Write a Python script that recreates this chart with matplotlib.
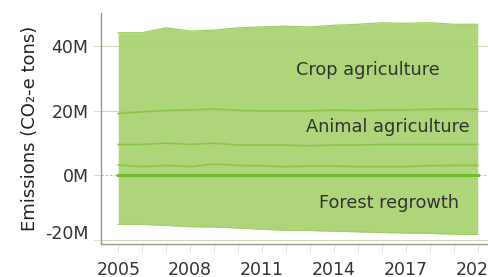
import matplotlib
matplotlib.use("Agg")
import matplotlib.pyplot as plt
import matplotlib.transforms as mtransforms
import numpy as np

plt.rcParams['font.family'] = ['DejaVu Sans']

years = list(range(2005, 2021))
# emission layers, million tonnes CO2-e (stacked from 0 upward)
other_a = [3.1, 2.6, 3.0, 2.6, 3.4, 3.0, 2.9, 2.6, 2.8, 2.8, 2.6, 2.6, 2.6, 2.9, 3.0, 3.0]
other_b = [6.4, 6.9, 6.9, 6.9, 6.5, 6.3, 6.4, 6.7, 6.3, 6.5, 6.7, 6.9, 6.9, 6.6, 6.5, 6.5]
animal = [9.6, 10.1, 10.2, 10.7, 10.6, 10.8, 10.6, 10.6, 10.8, 10.9, 10.7, 10.7, 10.7, 10.9, 11.0, 10.9]
crop = [25.1, 24.6, 25.6, 24.5, 24.5, 25.6, 26.1, 26.3, 26.1, 26.3, 26.8, 27.1, 26.9, 26.9, 26.3, 26.4]
forest = [-15.3, -15.3, -15.6, -16.0, -16.1, -16.4, -16.8, -17.1, -17.2, -17.4, -17.6, -17.8, -18.0, -18.1, -18.3, -18.4]

layer_names = ['Other A', 'Other B', 'Animal agriculture', 'Crop agriculture']
layers = [other_a, other_b, animal, crop]

fill = '#afd57a'
edge = '#8ac548'

fig = plt.figure(figsize=(4.88, 2.77), dpi=100)
ax = fig.add_axes([0.207, 0.119, 0.793, 0.834])

x = np.array(years)
base = np.zeros(len(years))
for i, vals in enumerate(layers):
    top = base + np.array(vals) * 1e6
    ax.fill_between(x, base, top, color=fill, lw=0, zorder=2)
    line_col = edge if i < len(layers) - 1 else '#a2cf68'
    ax.plot(x, top, color=line_col, lw=1.2 if i < len(layers) - 1 else 0.9, zorder=3)
    base = top
ax.fill_between(x, np.array(forest) * 1e6, 0, color=fill, lw=0, zorder=2)
ax.plot(x, np.array(forest) * 1e6, color='#a2cf68', lw=0.9, zorder=3)
ax.plot(x, np.zeros(len(years)), color='#72b92c', lw=2.2, zorder=4)

ax.axhline(0, color='#bbbbbb', lw=0.8, ls=(0, (2, 2)), zorder=1)
for g in [40e6, 20e6, -20e6]:
    ax.axhline(g, color='#e6e6e6', lw=0.8, zorder=1)
    ax.axhline(g, color='#9fcf66', lw=0.6, alpha=0.5, zorder=2.5)

ax.set_xlim(2004.28, 2020.43)
ax.set_ylim(-21.4e6, 50.3e6)

ax.set_xticks(range(2005, 2021, 3))
ax.set_xticks(years, minor=True)
ax.set_yticks([-20e6, 0, 20e6, 40e6])
ax.set_yticklabels(['-20M', '0M', '20M', '40M'])

ax.tick_params(axis='x', which='both', length=6, color='#dddddd', pad=6.5,
               labelsize=12.5, labelcolor='#333333')
ax.tick_params(axis='y', length=6, color='#dddddd', pad=3,
               labelsize=12.5, labelcolor='#333333')
lbl = ax.get_yticklabels()[0]
lbl.set_transform(lbl.get_transform() +
                  mtransforms.ScaledTranslation(0, 8 / 100, fig.dpi_scale_trans))

for s in ['top', 'right']:
    ax.spines[s].set_visible(False)
for s in ['left', 'bottom']:
    ax.spines[s].set_color('#999999')
    ax.spines[s].set_linewidth(1)

ax.set_ylabel('Emissions (CO\u2082-e tons)', fontsize=13, color='#222222', labelpad=4)

ax.text(2015.4, 32.6e6, 'Crop agriculture', ha='center', va='center',
        fontsize=12.8, color='#333333', zorder=5)
ax.text(2016.25, 15.0e6, 'Animal agriculture', ha='center', va='center',
        fontsize=12.8, color='#333333', zorder=5)
ax.text(2016.3, -8.6e6, 'Forest regrowth', ha='center', va='center',
        fontsize=12.8, color='#333333', zorder=5)

fig.savefig('out.png', dpi=100)
